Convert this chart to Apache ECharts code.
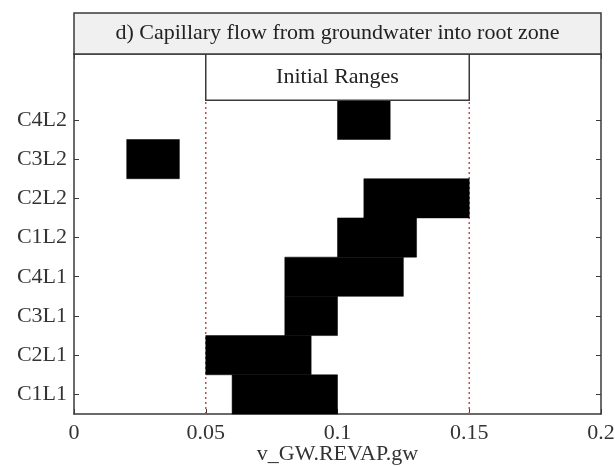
<!DOCTYPE html>
<html>
<head>
<meta charset="utf-8">
<script src="https://cdn.jsdelivr.net/npm/echarts@6/dist/echarts.min.js"></script>
<style>
  html, body { margin: 0; padding: 0; background: #ffffff; }
  #chart { width: 615px; height: 467px; }
</style>
</head>
<body>
<div id="chart"></div>
<script>
// Parameter ranges per scenario (lower / upper bound of v_GW.REVAP.gw)
const categories = ['C1L1', 'C2L1', 'C3L1', 'C4L1', 'C1L2', 'C2L2', 'C3L2', 'C4L2'];
const lowerBounds = [0.06, 0.05, 0.08, 0.08, 0.10, 0.11, 0.02, 0.10];
const upperBounds = [0.10, 0.09, 0.10, 0.125, 0.13, 0.15, 0.04, 0.12];
// Initial calibration range
const initialRange = [0.05, 0.15];
const initialRangeLabel = 'Initial Ranges';
const xTicks = [0, 0.05, 0.1, 0.15, 0.2];
const titleText = 'd) Capillary flow from groundwater into root zone';
const xAxisName = 'v_GW.REVAP.gw';

const FONT = 'Liberation Serif';
const FONT_SIZE = 22;
const INK = '#3a3a3a';
const TEXT = '#333333';

// y is a value axis: category i sits at value i, the band spans i-0.5 .. i+0.5
const yMin = -0.5;
const yMax = 8.68;
const catIdx = categories.map((_, i) => i);

const chart = echarts.init(document.getElementById('chart'), null, { renderer: 'canvas' });

const grid = { left: 74, right: 14, top: 54, bottom: 53, containLabel: false, outerBoundsMode: 'none' };

const barData = categories.map((c, i) => [i, lowerBounds[i], upperBounds[i]]);

const option = {
  animation: false,
  backgroundColor: '#ffffff',
  grid: grid,
  xAxis: [
    {
      type: 'value', min: xTicks[0], max: xTicks[xTicks.length - 1], interval: 0.05,
      position: 'bottom',
      axisLine: { show: true, onZero: false, lineStyle: { color: INK, width: 1.5 } },
      axisTick: { show: true, inside: true, length: 5, lineStyle: { color: INK } },
      axisLabel: { color: TEXT, fontFamily: FONT, fontSize: FONT_SIZE, margin: 8 },
      splitLine: { show: false },
      name: xAxisName, nameLocation: 'middle', nameGap: 29, nameMoveOverlap: false,
      nameTextStyle: { color: TEXT, fontFamily: FONT, fontSize: FONT_SIZE }
    },
    {
      type: 'value', min: xTicks[0], max: xTicks[xTicks.length - 1], interval: 0.05,
      position: 'top',
      axisLine: { show: true, onZero: false, lineStyle: { color: INK, width: 1.5 } },
      axisTick: { show: true, inside: true, length: 5, lineStyle: { color: INK } },
      axisLabel: { show: false },
      splitLine: { show: false }
    }
  ],
  yAxis: [
    {
      type: 'value', min: yMin, max: yMax, position: 'left',
      axisLine: { show: true, onZero: false, lineStyle: { color: INK, width: 1.5 } },
      axisTick: { show: true, inside: true, length: 5, customValues: catIdx, lineStyle: { color: INK } },
      axisLabel: {
        customValues: catIdx, color: TEXT, fontFamily: FONT, fontSize: FONT_SIZE, margin: 7,
        formatter: v => categories[Math.round(v)] || ''
      },
      splitLine: { show: false }
    },
    {
      type: 'value', min: yMin, max: yMax, position: 'right',
      axisLine: { show: true, onZero: false, lineStyle: { color: INK, width: 1.5 } },
      axisTick: { show: true, inside: true, length: 5, customValues: catIdx, lineStyle: { color: INK } },
      axisLabel: { show: false },
      splitLine: { show: false }
    }
  ],
  graphic: [
    {
      type: 'rect', z: 10,
      shape: { x: 74, y: 13, width: 527, height: 41 },
      style: { fill: '#f0f0f0', stroke: INK, lineWidth: 1.5 }
    },
    {
      type: 'text', z: 11,
      x: 74 + 527 / 2, y: 13 + 41 / 2,
      style: {
        text: titleText, fill: '#222222', font: FONT_SIZE + 'px "' + FONT + '"',
        align: 'center', verticalAlign: 'middle'
      }
    }
  ],
  series: [
    {
      // dotted guides at the initial range limits
      type: 'custom', name: 'range-guides', z: 1,
      xAxisIndex: 0, yAxisIndex: 0,
      data: initialRange.map(v => [v]),
      renderItem: function (params, api) {
        const p0 = api.coord([api.value(0), yMin]);
        const p1 = api.coord([api.value(0), categories.length - 0.5]);
        return {
          type: 'line',
          shape: { x1: p0[0], y1: p0[1], x2: p1[0], y2: p1[1] },
          style: { stroke: '#c0504d', lineWidth: 1.5, lineDash: [2, 3] }
        };
      }
    },
    {
      // parameter range bars
      type: 'custom', name: 'ranges', z: 2,
      xAxisIndex: 0, yAxisIndex: 0,
      data: barData,
      renderItem: function (params, api) {
        const i = api.value(0);
        const a = api.coord([api.value(1), i + 0.5]);
        const b = api.coord([api.value(2), i - 0.5]);
        return {
          type: 'rect',
          shape: { x: a[0], y: a[1], width: b[0] - a[0], height: b[1] - a[1] },
          style: { fill: '#000000', stroke: '#000000', lineWidth: 0.5 }
        };
      }
    },
    {
      // labelled box spanning the initial range
      type: 'custom', name: 'initial-range-box', z: 3,
      xAxisIndex: 0, yAxisIndex: 0,
      data: [[initialRange[0], initialRange[1]]],
      renderItem: function (params, api) {
        const a = api.coord([api.value(0), yMax]);
        const b = api.coord([api.value(1), categories.length - 0.5]);
        return {
          type: 'group',
          children: [
            {
              type: 'rect',
              shape: { x: a[0], y: a[1], width: b[0] - a[0], height: b[1] - a[1] },
              style: { fill: '#ffffff', stroke: INK, lineWidth: 1.5 }
            },
            {
              type: 'text',
              x: (a[0] + b[0]) / 2, y: (a[1] + b[1]) / 2,
              style: {
                text: initialRangeLabel, fill: '#222222', font: FONT_SIZE + 'px "' + FONT + '"',
                align: 'center', verticalAlign: 'middle'
              }
            }
          ]
        };
      }
    }
  ]
};

chart.setOption(option);
</script>
</body>
</html>
